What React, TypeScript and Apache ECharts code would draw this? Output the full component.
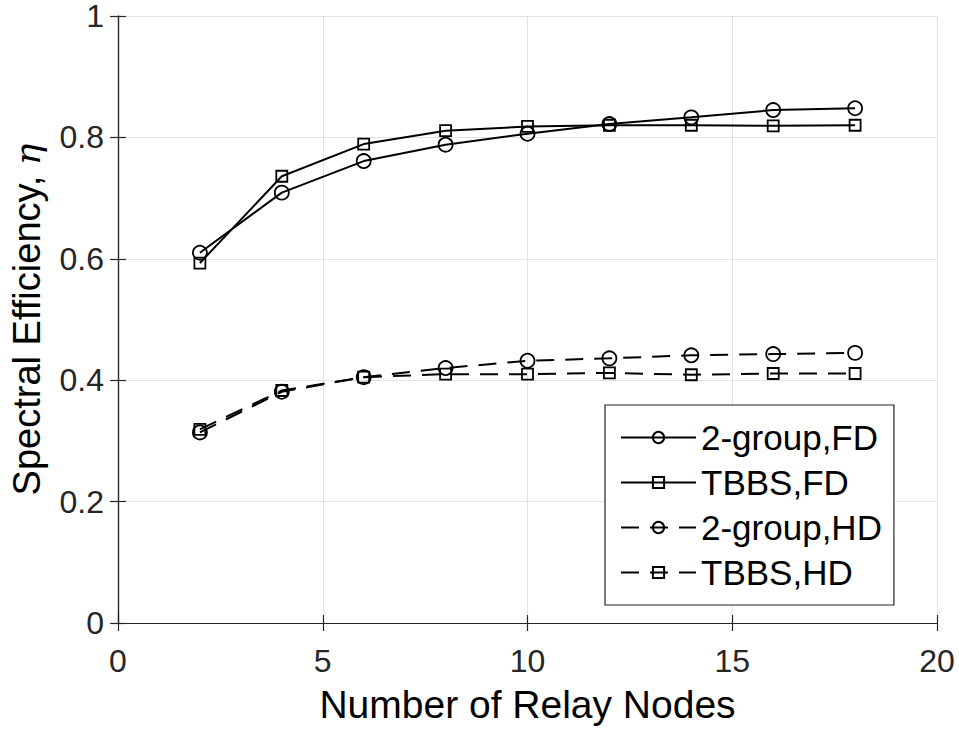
import React, { useEffect, useRef } from "react";
import * as echarts from "echarts";

const relayNodes = [2, 4, 6, 8, 10, 12, 14, 16, 18];
const group2FD = [0.61, 0.709, 0.761, 0.788, 0.806, 0.822, 0.833, 0.845, 0.848];
const tbbsFD = [0.593, 0.736, 0.789, 0.811, 0.818, 0.82, 0.82, 0.819, 0.82];
const group2HD = [0.314, 0.381, 0.405, 0.42, 0.432, 0.436, 0.441, 0.443, 0.445];
const tbbsHD = [0.319, 0.383, 0.405, 0.41, 0.41, 0.412, 0.409, 0.411, 0.411];
const seriesNames = ["2-group,FD", "TBBS,FD", "2-group,HD", "TBBS,HD"];

const FONT = '"Liberation Sans", Arial, Helvetica, sans-serif';
const AXIS_COLOR = "#262626";
const DASH = [18, 11];

function pairs(vals: number[]) {
  return relayNodes.map((x, i) => [x, vals[i]]);
}

function makeSeries(name: string, vals: number[], symbol: string, size: number, dashed: boolean) {
  return {
    name,
    type: "line",
    data: pairs(vals),
    symbol,
    symbolSize: size,
    showSymbol: true,
    lineStyle: { color: "#000", width: 2, type: dashed ? DASH : "solid" },
    itemStyle: { color: "rgba(0,0,0,0)", borderColor: "#000", borderWidth: 1.8 },
    emphasis: { disabled: true },
  };
}

export default function App() {
  const ref = useRef<HTMLDivElement>(null);
  useEffect(() => {
    if (!ref.current) return;
    const chart = echarts.init(ref.current, undefined, { renderer: "svg" });
    const axisCommon = {
      type: "value",
      axisLine: { show: true, lineStyle: { color: AXIS_COLOR, width: 1.2 } },
      axisTick: { show: true, inside: true, length: 8, lineStyle: { color: AXIS_COLOR, width: 1.2 } },
    };
    chart.setOption({
      animation: false,
      backgroundColor: "#fff",
      textStyle: { fontFamily: FONT },
      grid: { left: 118, right: 22, top: 13, bottom: 113, containLabel: false },
      xAxis: [
        {
          ...axisCommon,
          position: "bottom",
          min: 0,
          max: 20,
          interval: 5,
          name: "Number of Relay Nodes",
          nameLocation: "middle",
          nameGap: 62,
          nameTextStyle: { fontSize: 39, color: "#000", fontFamily: FONT },
          axisLabel: { fontSize: 32, color: AXIS_COLOR, margin: 22, fontFamily: FONT },
          splitLine: { show: true, lineStyle: { color: "#e3e3e3", width: 1 } },
        },
        {
          ...axisCommon,
          position: "top",
          min: 0,
          max: 20,
          interval: 5,
          axisLabel: { show: false },
          splitLine: { show: false },
        },
      ],
      yAxis: [
        {
          ...axisCommon,
          position: "left",
          min: 0,
          max: 1,
          interval: 0.2,
          name: "Spectral Efficiency, {eta|η}",
          nameLocation: "middle",
          nameGap: 72,
          nameTextStyle: {
            fontSize: 38,
            color: "#000",
            fontFamily: FONT,
            rich: {
              eta: { fontSize: 36, fontStyle: "italic", fontFamily: '"DejaVu Serif", "Liberation Serif", serif', color: "#000" },
            },
          },
          axisLabel: { fontSize: 32, lineHeight: 24, color: AXIS_COLOR, margin: 14, fontFamily: FONT },
          splitLine: { show: true, lineStyle: { color: "#e3e3e3", width: 1 } },
        },
        {
          ...axisCommon,
          position: "right",
          min: 0,
          max: 1,
          interval: 0.2,
          axisLabel: { show: false },
          splitLine: { show: false },
        },
      ],
      legend: {
        show: true,
        orient: "vertical",
        left: 605,
        top: 405,
        padding: [15, 12, 15, 15],
        itemGap: 10,
        itemWidth: 75,
        itemHeight: 14,
        itemTextGap: 8,
        backgroundColor: "#fff",
        borderColor: AXIS_COLOR,
        borderWidth: 1.2,
        borderRadius: 0,
        selectedMode: false,
        data: seriesNames,
        textStyle: { fontSize: 35, lineHeight: 35, color: "#000", fontFamily: FONT },
      },
      series: [
        makeSeries(seriesNames[0], group2FD, "circle", 14, false),
        makeSeries(seriesNames[1], tbbsFD, "rect", 11, false),
        makeSeries(seriesNames[2], group2HD, "circle", 14, true),
        makeSeries(seriesNames[3], tbbsHD, "rect", 11, true),
      ],
    });
    return () => chart.dispose();
  }, []);
  return (
    <div
      ref={ref}
      style={{ position: "absolute", left: 0, top: 0, width: 959, height: 736 }}
    />
  );
}
